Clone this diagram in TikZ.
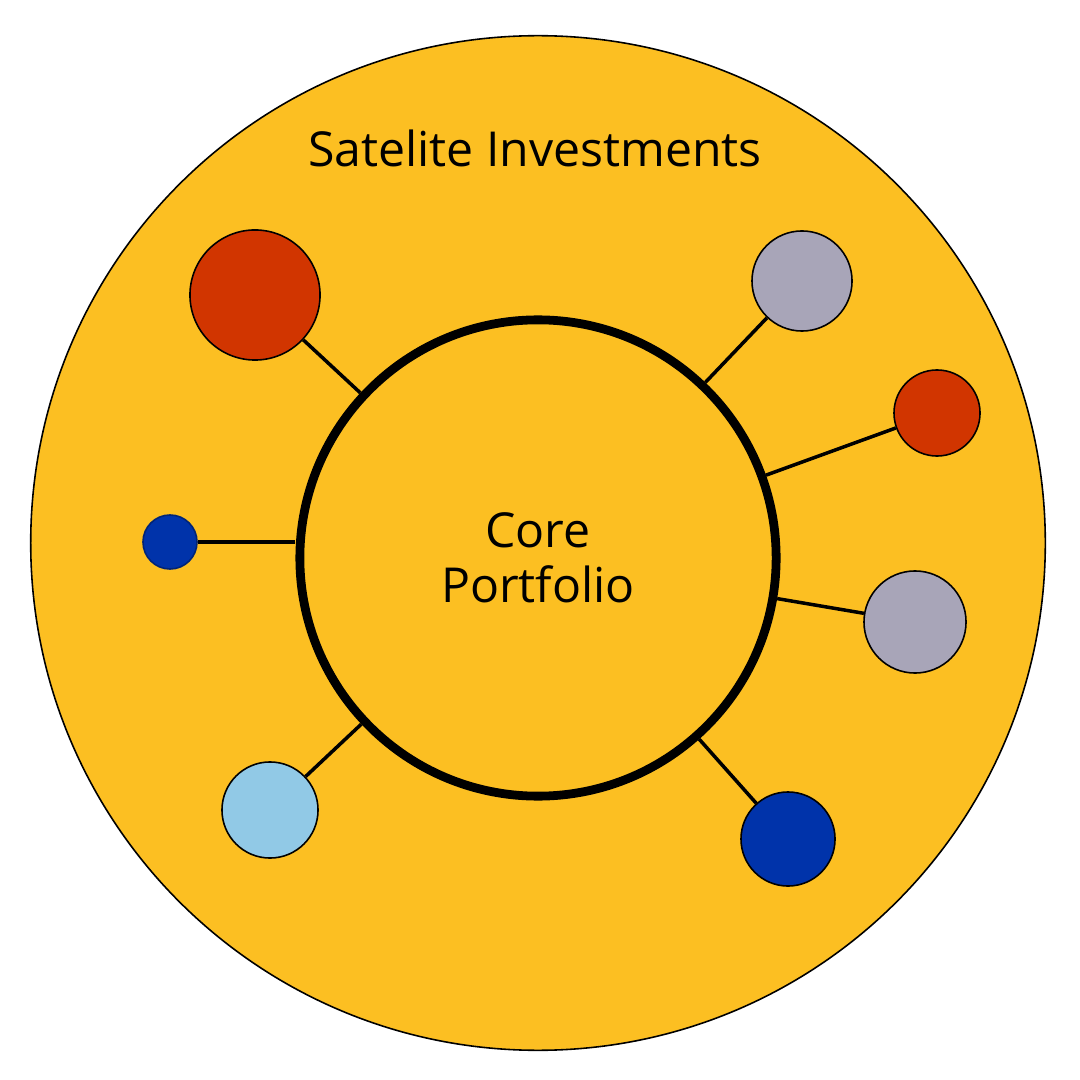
\documentclass[tikz,border=0pt]{standalone}
\usepackage{fontspec}
\setmainfont{Open Sans}
\usepackage{tikz}
\definecolor{SatYellow}{HTML}{FCBF22}
\definecolor{SatRed}{HTML}{D13500}
\definecolor{SatGray}{HTML}{A8A5B8}
\definecolor{SatBlue}{HTML}{0033AA}
\definecolor{SatLight}{HTML}{91C9E6}
\tikzset{
  sat/.style={circle, draw=black, line width=0.45pt, inner sep=0pt},
  link/.style={line width=1pt, black}
}

\begin{document}
\begin{tikzpicture}[x=0.01cm, y=-0.01cm, every node/.style={font=\fontsize{13.7}{15.5}\selectfont}]
  \useasboundingbox (0,0) rectangle (1080,1080);
  % Outer ring and core
  \node[circle, draw=black, line width=0.45pt, fill=SatYellow, minimum size=10.14cm, inner sep=0pt] (outer) at (538,543) {};
  \node at (535,148) (title) {Satelite Investments};
  \node[circle, draw=black, line width=2.5pt, minimum size=4.76cm, inner sep=0pt, align=center] (core) at (538,558) {Core\\Portfolio};
  % Satellites
  \node[sat, fill=SatRed, minimum size=1.30cm] (s1) at (255,295) {};
  \node[sat, fill=SatGray, minimum size=1.00cm] (s2) at (802,281) {};
  \node[sat, fill=SatRed, minimum size=0.86cm] (s3) at (937,413) {};
  \node[sat, fill=SatBlue, draw=SatBlue!70!black, minimum size=0.54cm] (s4) at (170,542) {};
  \node[sat, fill=SatGray, minimum size=1.02cm] (s5) at (915,622) {};
  \node[sat, fill=SatLight, minimum size=0.96cm] (s6) at (270,810) {};
  \node[sat, fill=SatBlue, minimum size=0.94cm] (s7) at (788,839) {};
  % Links
  \draw[link] (s1) -- (core);
  \draw[link] (s2) -- (core);
  \draw[link] (s3) -- (core);
  \draw[link] (s4.east) -- (s4 -| core.west);
  \draw[link] (s5) -- (core);
  \draw[link] (s6) -- (core);
  \draw[link] (s7) -- (core);
\end{tikzpicture}
\end{document}
